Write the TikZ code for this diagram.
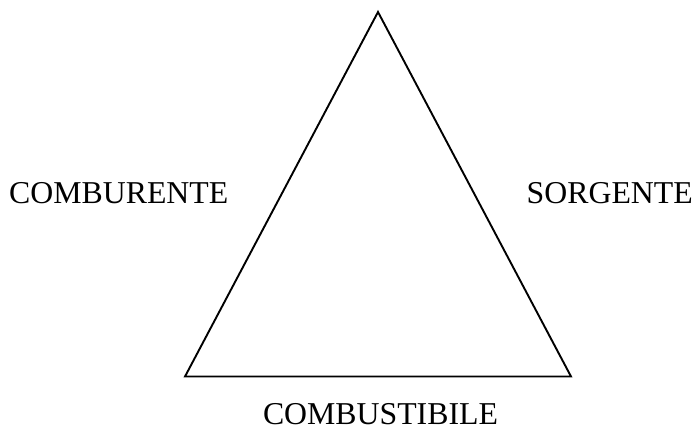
\documentclass[tikz,border=0pt]{standalone}
\usepackage{fontspec}
\setmainfont{Liberation Serif}
\begin{document}
\begin{tikzpicture}[x=1pt,y=-1pt,
  lbl/.style={inner sep=0pt,font=\fontsize{31.8}{36}\selectfont},
  tri/.style={draw=black,line width=1.9pt,line join=miter}]
\useasboundingbox (0,0) rectangle (697,428);
\coordinate (top) at (378,12);
\coordinate (bl) at (185,376.5);
\coordinate (br) at (571,376.5);
\draw[tri] (top) -- (bl) -- (br) -- cycle;
\node[lbl,anchor=base west] (comb) at (9,204) {COMBURENTE};
\node[lbl,anchor=base east] (sorg) at (693,204) {SORGENTE};
\node[lbl,anchor=base,text depth=0pt] (fuel) at (380.5,424) {COMBUSTIBILE};
\end{tikzpicture}
\end{document}
